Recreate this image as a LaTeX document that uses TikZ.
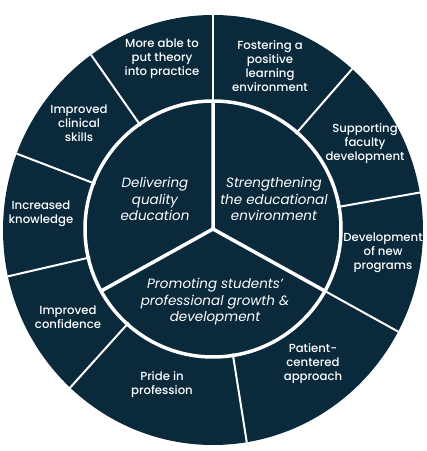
\documentclass[tikz,border=0pt]{standalone}
\usepackage{fontspec}
\setmainfont{Poppins}
\newfontfamily\pmed{Poppins Medium}
\usetikzlibrary{calc}
\definecolor{navy}{RGB}{10,42,60}
\begin{document}
\begin{tikzpicture}[x=1pt,y=1pt,
  outertxt/.style={text=white,align=center,font=\pmed\fontsize{11.7}{14}\selectfont},
  innertxt/.style={text=white,align=center,font=\itshape\fontsize{13.5}{16.5}\selectfont},
  thinline/.style={white,line width=2pt},
  thickline/.style={white,line width=3.5pt,line join=round}]
\useasboundingbox (0,0) rectangle (427,451);
\coordinate (C) at (213,222);
\coordinate (O) at (213,221);
\fill[navy] (O) ellipse [x radius=210,y radius=215];
\begin{scope}
\clip (O) ellipse [x radius=210,y radius=215];
\foreach \a in {90,49,10,-29,-81,228,193,159,125}
  \draw[thinline] ($(C)+(\a:126)$) -- ($(C)+(\a:240)$);
\end{scope}
\draw[thickline] (C) circle (128);
\draw[thickline] ($(C)+(90:128)$) -- (C) -- ($(C)+(209:128)$);
\draw[thickline] (C) -- ($(C)+(331:128)$);
% outer ring texts
\node[outertxt] (t1) at (162,392) {More able to\\put theory\\into practice};
\node[outertxt] (t2) at (270,385) {Fostering a\\positive\\learning\\environment};
\node[outertxt] (t3) at (365,307) {Supporting\\faculty\\development};
\node[outertxt] (t4) at (383,198) {Development\\of new\\programs};
\node[outertxt] (t5) at (313,87) {Patient-\\centered\\approach};
\node[outertxt] (t6) at (162,66) {Pride in\\profession};
\node[outertxt] (t7) at (68,134) {Improved\\confidence};
\node[outertxt] (t8) at (41,237) {Increased\\knowledge};
\node[outertxt] (t9) at (79,328) {Improved\\clinical\\skills};
% inner texts
\node[innertxt] (i1) at (155,252) {Delivering\\quality\\education};
\node[innertxt] (i2) at (274,252) {Strengthening\\the educational\\environment};
\node[innertxt] (i3) at (215,149) {Promoting students'\\professional growth \&\\development};
\end{tikzpicture}
\end{document}
